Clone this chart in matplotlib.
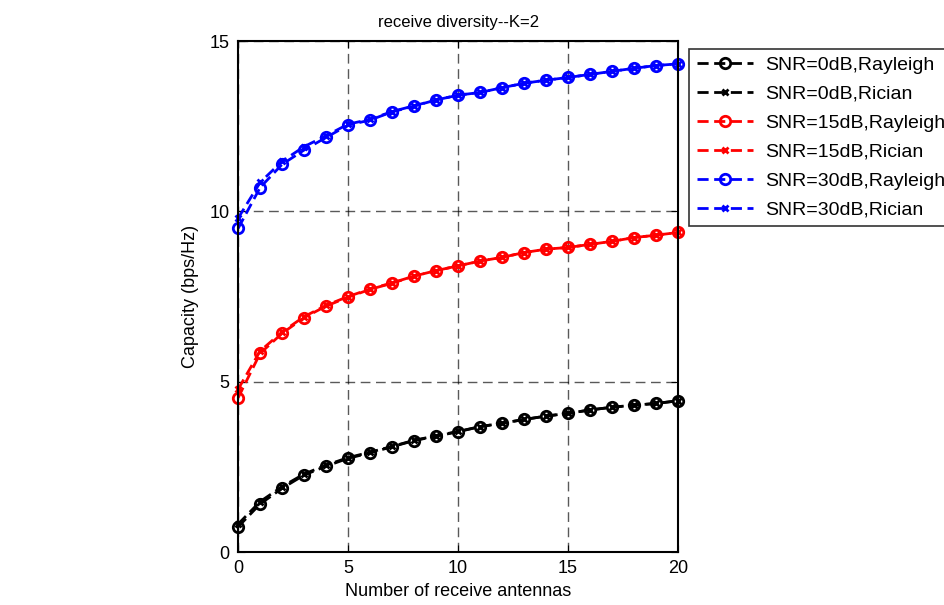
import numpy as np
import matplotlib
matplotlib.use("Agg")
import matplotlib.pyplot as plt

plt.rcParams['font.family'] = ['Liberation Sans', 'DejaVu Sans']

# number of receive antennas
antennas = list(range(0, 21))

# capacity (bps/Hz) for each SNR / channel model
cap_0_rayleigh = [0.74, 1.41, 1.87, 2.26, 2.52, 2.75, 2.91, 3.09, 3.27, 3.40, 3.53,
                  3.68, 3.78, 3.89, 3.99, 4.07, 4.17, 4.25, 4.31, 4.36, 4.44]
cap_0_rician = [0.82, 1.48, 1.92, 2.29, 2.55, 2.77, 2.93, 3.10, 3.28, 3.41, 3.54,
                3.68, 3.78, 3.89, 3.99, 4.07, 4.17, 4.25, 4.31, 4.36, 4.44]
cap_15_rayleigh = [4.53, 5.83, 6.42, 6.88, 7.22, 7.48, 7.71, 7.89, 8.10, 8.26, 8.40,
                   8.54, 8.65, 8.79, 8.89, 8.94, 9.03, 9.12, 9.23, 9.30, 9.38]
cap_15_rician = [4.78, 5.90, 6.46, 6.91, 7.24, 7.50, 7.72, 7.90, 8.10, 8.26, 8.40,
                 8.54, 8.65, 8.79, 8.89, 8.94, 9.03, 9.12, 9.23, 9.30, 9.38]
cap_30_rayleigh = [9.50, 10.70, 11.38, 11.80, 12.17, 12.53, 12.68, 12.92, 13.09, 13.27, 13.41,
                   13.49, 13.63, 13.76, 13.85, 13.93, 14.02, 14.11, 14.20, 14.28, 14.33]
cap_30_rician = [9.80, 10.85, 11.47, 11.90, 12.22, 12.56, 12.70, 12.93, 13.10, 13.27, 13.41,
                 13.49, 13.63, 13.76, 13.85, 13.93, 14.02, 14.11, 14.20, 14.28, 14.33]

fig = plt.figure(figsize=(9.45, 6.05), dpi=100)
ax = fig.add_axes([0.252, 0.0876, 0.4655, 0.8446])

series = [
    (cap_0_rayleigh, 'k', 'o', 'SNR=0dB,Rayleigh'),
    (cap_0_rician, 'k', 'x', 'SNR=0dB,Rician'),
    (cap_15_rayleigh, 'r', 'o', 'SNR=15dB,Rayleigh'),
    (cap_15_rician, 'r', 'x', 'SNR=15dB,Rician'),
    (cap_30_rayleigh, 'b', 'o', 'SNR=30dB,Rayleigh'),
    (cap_30_rician, 'b', 'x', 'SNR=30dB,Rician'),
]
for vals, col, mk, lab in series:
    if mk == 'o':
        ax.plot(antennas, vals, '--', color=col, marker='o', markersize=7.5,
                markerfacecolor='none', markeredgewidth=2, linewidth=2,
                dashes=(4, 2), label=lab, clip_on=False)
    else:
        ax.plot(antennas, vals, '--', color=col, marker='x', markersize=4,
                markeredgewidth=2, linewidth=2, dashes=(4, 2), label=lab,
                clip_on=False)

ax.set_xlim(0, 20)
ax.set_ylim(0, 15)
ax.set_xticks([0, 5, 10, 15, 20])
ax.set_yticks([0, 5, 10, 15])
ax.grid(True, color='k', linestyle=(0, (7, 4)), linewidth=1.0, alpha=0.65)
ax.tick_params(direction='in', top=True, right=True, labelsize=13, length=5, pad=6)
for s in ax.spines.values():
    s.set_linewidth(1.5)

ax.set_title('receive diversity--K=2', fontsize=12, pad=10)
ax.set_xlabel('Number of receive antennas', fontsize=13, labelpad=4)
ax.set_ylabel('Capacity (bps/Hz)', fontsize=13, labelpad=8)

leg = ax.legend(loc='upper left', bbox_to_anchor=(1.025, 0.985), fontsize=14,
                frameon=True, fancybox=False, edgecolor='k', handlelength=2.9,
                borderaxespad=0, labelspacing=0.58, handletextpad=0.6,
                borderpad=0.4)
leg.get_frame().set_linewidth(1.2)

fig.savefig('out.png', dpi=100)
